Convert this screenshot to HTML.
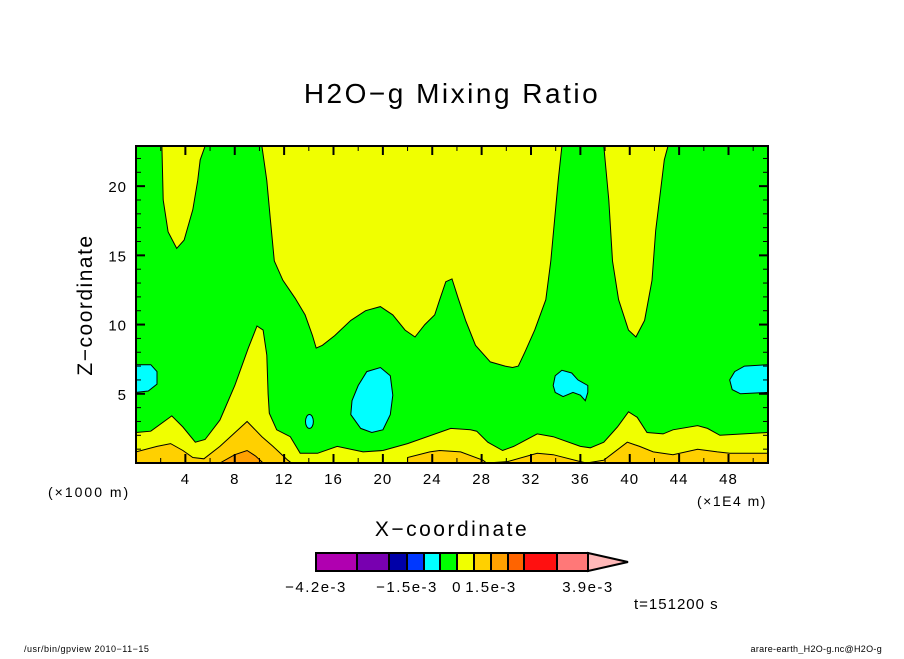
<!DOCTYPE html>
<html><head><meta charset="utf-8"><style>
body{margin:0;background:#fff;width:904px;height:654px;overflow:hidden}
svg text{font-family:"Liberation Sans",sans-serif;fill:#000}
</style></head><body>
<svg id="chart" width="904" height="654" xmlns="http://www.w3.org/2000/svg">
<text x="452" y="103" font-size="28" text-anchor="middle" letter-spacing="2.5">H2O−g Mixing Ratio</text>
<text transform="translate(92,305) rotate(-90)" font-size="21" text-anchor="middle" letter-spacing="1.5">Z−coordinate</text>
<text x="452" y="536" font-size="21" text-anchor="middle" letter-spacing="2.5">X−coordinate</text>
<text x="48" y="497" font-size="14" letter-spacing="2">(×1000 m)</text>
<text x="697" y="506" font-size="14" letter-spacing="1.5">(×1E4 m)</text>
<text x="634" y="609" font-size="15" letter-spacing="1">t=151200 s</text>
<text x="24" y="652" font-size="9" letter-spacing="0.5">/usr/bin/gpview  2010−11−15</text>
<text x="882" y="652" font-size="9" text-anchor="end" letter-spacing="0.3">arare-earth_H2O-g.nc@H2O-g</text>
<defs><clipPath id="pc"><rect x="136" y="146" width="632" height="317"/></clipPath></defs>
<g id="plot" clip-path="url(#pc)"></g>
<g id="axes"></g>
<g id="cbar"></g>
</svg>
<script>
const xMin=0,xMax=51.2,zMin=0,zMax=22.9;
const xTicks=[4,8,12,16,20,24,28,32,36,40,44,48];
const zTicks=[5,10,15,20];
const yellowTopA=[[2.1,22.9],[2.2,19.0],[2.6,16.7],[3.3,15.5],[3.9,16.1],[4.6,18.3],[5.0,20.4],[5.2,21.9],[5.6,22.9]];
const yellowTopB=[[10.2,22.9],[10.6,20.4],[10.9,17.5],[11.2,14.6],[11.9,13.2],[12.9,11.9],[13.7,10.7],[14.3,9.2],[14.6,8.3],[15.1,8.5],[16.1,9.2],[17.4,10.3],[18.6,11.0],[19.8,11.3],[20.8,10.7],[21.8,9.6],[22.6,9.1],[23.4,10.0],[24.2,10.7],[24.6,11.8],[25.1,13.1],[25.6,13.3],[26.1,11.9],[26.7,10.3],[27.5,8.5],[28.7,7.3],[29.9,7.0],[30.5,6.9],[30.97,7.0],[31.5,8.0],[32.3,9.6],[33.2,11.8],[33.6,14.6],[33.9,17.5],[34.2,20.4],[34.5,22.9]];
const yellowTopC=[[37.9,22.9],[38.3,19.0],[38.6,14.6],[39.1,11.8],[39.9,9.6],[40.5,9.1],[41.2,10.3],[41.8,13.2],[42.1,16.8],[42.5,19.7],[42.8,21.9],[43.1,22.9]];
const greenBottom=[[0,2.2],[1.2,2.3],[2.9,3.4],[3.8,2.6],[4.8,1.5],[5.6,1.7],[6.8,3.1],[8.0,5.6],[9.1,8.3],[9.8,9.9],[10.3,9.6],[10.6,7.8],[10.7,5.0],[10.8,3.6],[11.4,2.4],[12.5,1.9],[13.3,0.7],[14.7,0.7],[16.3,1.2],[18.4,0.8],[20.0,0.9],[22.0,1.4],[25.5,2.5],[27.1,2.4],[27.6,2.3],[28.5,1.5],[29.7,0.9],[30.6,1.2],[32.5,2.1],[33.8,1.9],[36.0,1.2],[36.8,1.1],[37.9,1.5],[39.0,2.6],[39.9,3.7],[40.6,3.3],[41.4,2.2],[42.7,2.1],[43.5,2.4],[45.5,2.7],[46.3,2.5],[47.3,2.0],[51.2,2.2]];
const goldTop=[[0,0.8],[1.7,1.2],[2.8,1.4],[3.8,0.9],[4.6,0.4],[5.5,0.3],[6.8,1.2],[9.0,3.0],[10.2,1.9],[11.1,1.2],[12.3,0.2],[12.6,0],[22.0,0],[22.0,0.4],[23.8,0.8],[24.6,0.9],[26.3,0.8],[28.1,0.2],[28.4,0],[30.1,0.1],[32.5,0.7],[33.8,0.6],[36.0,0.1],[36.5,0],[37.9,0.2],[39.8,1.5],[40.8,1.2],[41.9,0.8],[43.5,0.6],[45.5,1.0],[47.1,0.8],[48.1,0.7],[51.2,0.7]];
const orangeTop=[[6.8,0],[8.0,0.6],[9.0,0.9],[9.7,0.5],[10.3,0]];
const cyanLeft=[[0,7.1],[1.2,7.1],[1.7,6.6],[1.7,5.7],[1.0,5.2],[0,5.1]];
const cyanBig=[[17.5,4.5],[18.0,5.6],[18.7,6.6],[19.8,6.9],[20.6,6.3],[20.8,4.9],[20.6,3.5],[20.0,2.4],[19.1,2.2],[18.2,2.5],[17.4,3.5]];
const cyanMid=[[33.8,5.6],[33.96,5.1],[34.6,4.8],[35.4,5.1],[36.0,4.9],[36.4,4.5],[36.6,5.1],[36.6,5.6],[35.8,6.0],[35.3,6.5],[34.5,6.7],[33.96,6.3]];
const cyanRight=[[48.1,6.0],[48.5,6.6],[49.3,7.0],[51.2,7.1],[51.2,5.1],[48.97,5.0],[48.3,5.3]];
const cyanSmall=[[14.05,3.0,0.32,0.5]];
const cbColors=["#b000b0","#7800b0","#0000a8","#0038ff","#00ffff","#00ff00","#f0ff00","#ffd000","#ffa000","#ff6400","#ff1010","#ff7878"];
const cbLabels=["−4.2e-3","−1.5e-3","0","1.5e-3","3.9e-3"];
const cbLabelIdx=[0,3,6,8,12];

const X0=136,X1=768,Y0=146,Y1=463;
const sx=v=>X0+(v-xMin)/(xMax-xMin)*(X1-X0);
const sz=v=>Y1-(v-zMin)/(zMax-zMin)*(Y1-Y0);
const NS="http://www.w3.org/2000/svg";
const plot=document.getElementById('plot'),axes=document.getElementById('axes'),cbar=document.getElementById('cbar');
function mk(tag,attrs,parent){const e=document.createElementNS(NS,tag);for(const k in attrs)e.setAttribute(k,attrs[k]);parent.appendChild(e);return e;}
function pts(a){return a.map(p=>sx(p[0]).toFixed(1)+','+sz(p[1]).toFixed(1)).join(' ');}
function poly(a,fill,name,closeBottom){
  let p=a;
  if(closeBottom) p=a.concat([[xMax+1,zMin-1],[xMin-1,zMin-1]]);
  const e=mk('polygon',{points:pts(p),fill:fill,stroke:'#000','stroke-width':1},plot);
  
  
}
const bg=mk('rect',{x:X0,y:Y0,width:X1-X0,height:Y1-Y0,fill:'#00ff00'},plot);


function topClose(a){return a.concat([[a[a.length-1][0],zMax+1],[a[0][0],zMax+1]]);}
poly(topClose(yellowTopA),'#f0ff00','contour-yellow-top-left',false);
poly(topClose(yellowTopB),'#f0ff00','contour-yellow-top-center',false);
poly(topClose(yellowTopC),'#f0ff00','contour-yellow-top-right',false);
poly([[xMin-1,greenBottom[0][1]]].concat(greenBottom,[[xMax+1,greenBottom[greenBottom.length-1][1]]]),'#f0ff00','contour-yellow-bottom',true);
poly([[xMin-1,goldTop[0][1]]].concat(goldTop,[[xMax+1,goldTop[goldTop.length-1][1]]]),'#ffd000','contour-gold-bottom',true);
poly(orangeTop,'#ffa000','contour-orange-blob',true);
poly(cyanLeft.concat([[xMin-1,5.1],[xMin-1,7.1]]),'#00ffff','contour-cyan-left',false);
poly(cyanBig,'#00ffff','contour-cyan-center',false);
poly(cyanMid,'#00ffff','contour-cyan-mid-right',false);
poly(cyanRight,'#00ffff','contour-cyan-right',false);
cyanSmall.forEach(c=>{
  const e=mk('ellipse',{cx:sx(c[0]),cy:sz(c[1]),rx:sx(c[2])-sx(0),ry:sz(0)-sz(c[3]),fill:'#00ffff',stroke:'#000','stroke-width':1},plot);
  
  
});
const fr=mk('rect',{x:X0,y:Y0,width:X1-X0,height:Y1-Y0,fill:'none',stroke:'#000','stroke-width':2},axes);


for(let v=2;v<xMax;v+=2){
  const major=v%4===0,L=major?9:5;
  [[Y1,-L],[Y0,L]].forEach(([y,d])=>{
    const t=mk('line',{x1:sx(v),x2:sx(v),y1:y,y2:y+d,stroke:'#000','stroke-width':major?2:1},axes);
    
    
  });
}
xTicks.forEach(v=>{
  const t=mk('text',{x:sx(v),y:484,'font-size':15,'text-anchor':'middle','letter-spacing':1},axes);t.textContent=v;
  
  
});
for(let v=1;v<zMax;v+=1){
  const major=v%5===0,L=major?9:5;
  [[X0,L],[X1,-L]].forEach(([x,d])=>{
    const t=mk('line',{x1:x,x2:x+d,y1:sz(v),y2:sz(v),stroke:'#000','stroke-width':major?2:1},axes);
    
    
  });
}
zTicks.forEach(v=>{
  const t=mk('text',{x:127,y:sz(v)+6,'font-size':15,'text-anchor':'end','letter-spacing':1},axes);t.textContent=v;
  
  
});
const cbEdges=[316,357,389,407,424,440,457,474,491,508,524,557,588];
cbColors.forEach((c,i)=>{
  const r=mk('rect',{x:cbEdges[i],y:553,width:cbEdges[i+1]-cbEdges[i],height:18,fill:c,stroke:'#000','stroke-width':2},cbar);
  
  
});
const tri=mk('polygon',{points:'588,553 628,562 588,571',fill:'#ffb8b8',stroke:'#000','stroke-width':2},cbar);


cbLabels.forEach((s,i)=>{
  const t=mk('text',{x:cbEdges[cbLabelIdx[i]],y:592,'font-size':15,'text-anchor':'middle','letter-spacing':1.5},cbar);t.textContent=s;
  
  
});
</script>
</body></html>
